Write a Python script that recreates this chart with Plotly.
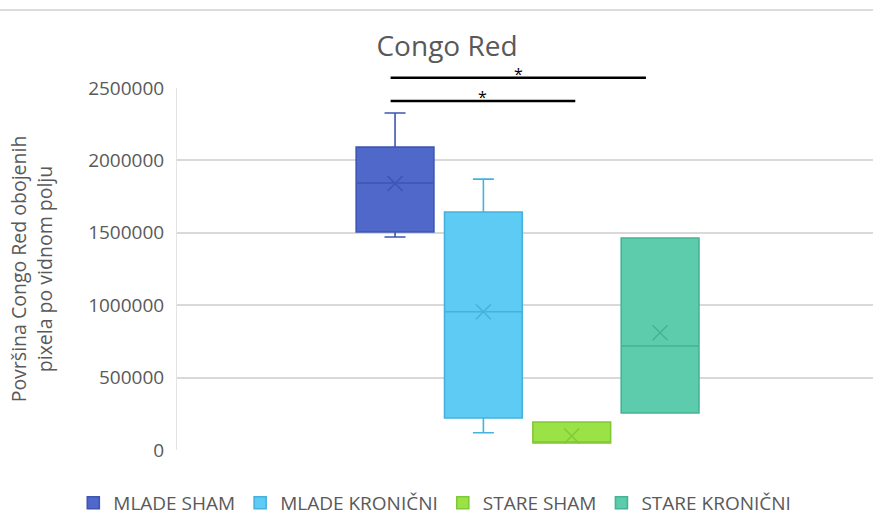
import plotly.graph_objects as go

groups = ["MLADE SHAM", "MLADE KRONIČNI", "STARE SHAM", "STARE KRONIČNI"]
positions = [1, 2, 3, 4]
lower_fence = [1471000, 119000, 48000, 256000]
q1 = [1506000, 221000, 48000, 256000]
median = [1844000, 955000, 48000, 718000]
q3 = [2092000, 1644000, 193000, 1464000]
upper_fence = [2327000, 1871000, 193000, 1464000]
means = [1840000, 955000, 97000, 810000]

fill_colors = ["#4F68C9", "#5DCBF3", "#9AE246", "#5CCCAD"]
line_colors = ["#3E55B3", "#45B2DD", "#80C936", "#45B394"]

# significance brackets: (start group, end group, star label)
sig_pairs = [(1, 4, "*"), (1, 3, "*")]

y_ticks = [0, 500000, 1000000, 1500000, 2000000, 2500000]

FONT = "Open Sans"
GRAY = "#595959"

fig = go.Figure()
for i, g in enumerate(groups):
    fig.add_trace(go.Box(
        name=g,
        x=[positions[i]],
        q1=[q1[i]], median=[median[i]], q3=[q3[i]],
        lowerfence=[lower_fence[i]], upperfence=[upper_fence[i]],
        fillcolor=fill_colors[i],
        line=dict(color=line_colors[i], width=1.6),
        width=0.88, whiskerwidth=0.27,
        boxpoints=False, hoverinfo="skip",
    ))
for i, g in enumerate(groups):
    fig.add_trace(go.Scatter(
        x=[positions[i]], y=[means[i]], mode="markers",
        marker=dict(symbol="x-thin-open", size=15, color=line_colors[i],
                    line=dict(color=line_colors[i], width=1.5)),
        showlegend=False, hoverinfo="skip",
    ))

# brackets (drawn above plot area in paper y)
bracket_y = [1.028, 0.964]
star_y = [1.0387, 0.975]
ends = [3.84, 3.04]
for k, (a, b, lab) in enumerate(sig_pairs):
    x0 = positions[a - 1] - 0.05
    x1 = ends[k]
    fig.add_shape(type="line", xref="x", yref="paper", x0=x0, x1=x1,
                  y0=bracket_y[k], y1=bracket_y[k],
                  line=dict(color="black", width=2.5))
    fig.add_annotation(x=(x0 + x1) / 2, y=star_y[k], xref="x", yref="paper",
                       text=lab, showarrow=False, yanchor="middle", xanchor="center",
                       font=dict(family=FONT, size=16, color="black"))

# top border line of chart area
fig.add_shape(type="line", xref="paper", yref="paper", x0=-0.26, x1=1.0,
              y0=1.2155, y1=1.2155, line=dict(color="#dcdcdc", width=2))

fig.update_layout(
    width=873, height=516,
    margin=dict(l=177, r=0, t=88, b=66, autoexpand=False),
    paper_bgcolor="white", plot_bgcolor="white",
    boxmode="overlay",
    title=dict(text="Congo Red", x=0.388, xref="paper", xanchor="center",
               y=1 - 46 / 516, yref="container", yanchor="middle",
               font=dict(family=FONT, size=28, color=GRAY)),
    xaxis=dict(range=[-1.468, 6.41], showgrid=False, zeroline=False,
               showticklabels=False, showline=False, ticks=""),
    yaxis=dict(range=[0, 2500000], tickvals=y_ticks,
               ticktext=[str(v) for v in y_ticks],
               showgrid=True, gridcolor="#d9d9d9", gridwidth=1.5,
               zeroline=False, showline=True, linecolor="#e3e3e3", linewidth=1,
               ticks="", ticklabelstandoff=8,
               tickfont=dict(family=FONT, size=19, color=GRAY),
               title=dict(text="Površina Congo Red obojenih<br>pixela po vidnom polju",
                          font=dict(family=FONT, size=19.5, color=GRAY), standoff=30)),
    legend=dict(orientation="h", x=-0.149, xanchor="left", y=-0.146, yanchor="middle",
                font=dict(family=FONT, size=19, color=GRAY), itemclick=False,
                traceorder="normal"),
    showlegend=True,
)

fig.write_html("out.html", config={"displayModeBar": False},
               post_script="document.body.style.margin='0';"
                           "document.body.style.overflow='hidden';"
                           "document.documentElement.style.overflow='hidden';")
